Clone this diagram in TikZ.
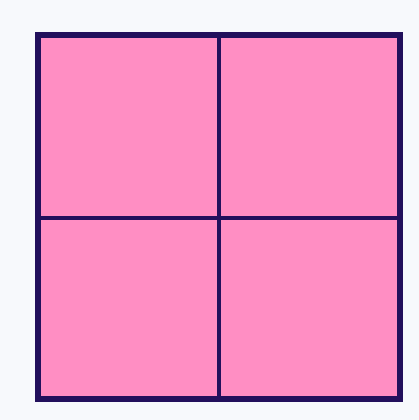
\documentclass[tikz,border=0pt]{standalone}
\usepackage{xcolor}
\usepackage{tikz}
\definecolor{cpink}{HTML}{FF8EC3}
\definecolor{cnavy}{HTML}{22105C}
\definecolor{cpaper}{HTML}{F7F9FC}
\tikzset{
  frame/.style={line width=6pt,cnavy,line join=miter},
  split/.style={line width=3.6pt,cnavy},
}

\begin{document}
\begin{tikzpicture}[x=1pt,y=-1pt]

% ================= PAPER =================
\fill[cpaper] (0,0) rectangle (419,420);
\useasboundingbox (0,0) rectangle (419,420);

% ================= SQUARE =================
\coordinate (tl) at (38,35);
\coordinate (br) at (400,399);
\coordinate (mt) at (219,35);  \coordinate (mb) at (219,399);
\coordinate (ml) at (38,218);  \coordinate (mr) at (400,218);
\fill[cpink] (tl) rectangle (br);
% quarters
\draw[split] (mt) -- (mb);
\draw[split] (ml) -- (mr);
\draw[frame] (tl) rectangle (br);

\end{tikzpicture}
\end{document}
